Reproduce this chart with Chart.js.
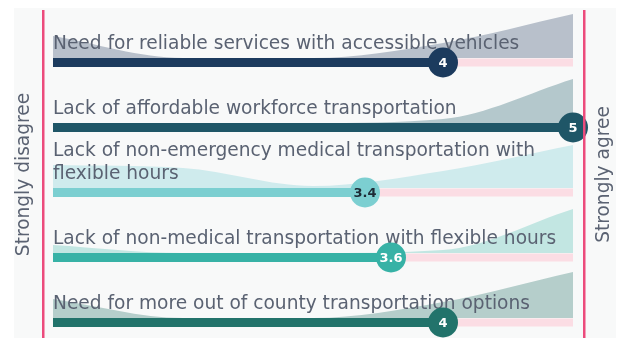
<!DOCTYPE html>
<html><head><meta charset="utf-8">
<script src="https://cdn.jsdelivr.net/npm/chart.js@4.4.1/dist/chart.umd.min.js"></script>
<style>html,body{margin:0;padding:0;background:#fff;overflow:hidden;}canvas{display:block;}</style>
</head><body><canvas id="c" width="620" height="338"></canvas>
<script>
// ---- data ----
const categories = [
  ["Need for reliable services with accessible vehicles"],
  ["Lack of affordable workforce transportation"],
  ["Lack of non-emergency medical transportation with", "flexible hours"],
  ["Lack of non-medical transportation with flexible hours"],
  ["Need for more out of county transportation options"]
];
const averages = [4, 5, 3.4, 3.6, 4];
const averageLabels = ["4", "5", "3.4", "3.6", "4"];
const scalePoints = [1, 2, 3, 4, 5];
// relative share of answers at each scale point (shaded distribution behind each row)
const dist1 = [22, 0, 0, 15, 44];
const dist2 = [0, 0, 0, 4, 44];
const dist3 = [23, 20, 2, 17, 43];
const dist4 = [8, 0, 0, 3, 44];
const dist5 = [19, 0, 0, 16, 46];
const axisLabels = ["Strongly disagree", "Strongly agree"];

// ---- styles ----
const distributions = [dist1, dist2, dist3, dist4, dist5];
const barColors = ["#1c3b5e", "#1f5667", "#7ccfd1", "#37b2a6", "#22736b"];
const areaColors = ["#b8c0cb", "#b4c8cc", "#cfebed", "#c2e6e2", "#b5cecb"];
const circleText = ["#ffffff", "#ffffff", "#1d2b36", "#ffffff", "#ffffff"];
const trackColor = "#fbdde4";
const pink = "#ec4b7c";
const textColor = "#5a6272";
const FONT = "'DejaVu Sans'";
const FONT_SIZE = 18.6;
const ROW_PX = 65;
const DIST_UNIT = 1 / ROW_PX;
const TRACK_HALF = 4.5 / ROW_PX;

const datasets = [];
distributions.forEach((d, i) => {
  const r = i + 1;
  const base = r - TRACK_HALF;
  datasets.push({
    role: "area", type: "line",
    data: scalePoints.map((x, k) => ({ x: x, y: base - d[k] * DIST_UNIT })),
    fill: { value: base }, backgroundColor: areaColors[i], borderColor: "rgba(0,0,0,0)",
    borderWidth: 0, pointRadius: 0, cubicInterpolationMode: "monotone", order: 40
  });
});
distributions.forEach((d, i) => {
  const r = i + 1;
  datasets.push({
    role: "track", type: "line",
    data: [{ x: scalePoints[0], y: r }, { x: scalePoints[4], y: r }],
    borderColor: trackColor, borderWidth: 8, pointRadius: 0, fill: false,
    borderCapStyle: "butt", order: 30
  });
});
averages.forEach((v, i) => {
  const r = i + 1;
  datasets.push({
    role: "bar", type: "line",
    data: [{ x: scalePoints[0], y: r }, { x: v, y: r }],
    borderColor: barColors[i], borderWidth: 9, pointRadius: 0, fill: false,
    borderCapStyle: "butt", order: 20
  });
});
averages.forEach((v, i) => {
  const r = i + 1;
  datasets.push({
    role: "dot", type: "line", showLine: false,
    data: [{ x: v, y: r }],
    pointRadius: 15, pointBackgroundColor: barColors[i], pointBorderWidth: 0,
    borderColor: barColors[i], clip: false, order: 10
  });
});

const bgPlugin = {
  id: "bg",
  beforeDraw(chart) {
    const c = chart.ctx;
    c.save();
    c.fillStyle = "#ffffff"; c.fillRect(0, 0, chart.width, chart.height);
    c.fillStyle = "#f8f9f9"; c.fillRect(14, 8, 602, chart.height - 8);
    c.restore();
    chart.$textDone = false;
  }
};
const textPlugin = {
  id: "cats",
  beforeDatasetDraw(chart, args) {
    const ds = chart.data.datasets[args.index];
    if (ds.role === "area" || chart.$textDone) return;
    chart.$textDone = true;
    const c = chart.ctx, xs = chart.scales.x, ys = chart.scales.y;
    c.save();
    c.fillStyle = textColor;
    c.font = FONT_SIZE + "px " + FONT;
    c.textAlign = "left"; c.textBaseline = "alphabetic";
    categories.forEach((lines, i) => {
      const cy = ys.getPixelForValue(i + 1);
      lines.forEach((t, j) => {
        const y = cy - 13 - (lines.length - 1 - j) * 23;
        c.fillText(t, xs.getPixelForValue(scalePoints[0]), y);
      });
    });
    c.restore();
  },
  afterDatasetsDraw(chart) {
    const c = chart.ctx, xs = chart.scales.x, ys = chart.scales.y;
    c.save();
    c.font = "bold 13px " + FONT;
    c.textAlign = "center"; c.textBaseline = "middle";
    averages.forEach((v, i) => {
      c.fillStyle = circleText[i];
      c.fillText(averageLabels[i], xs.getPixelForValue(v), ys.getPixelForValue(i + 1) + 1);
    });
    // right-hand axis label, reading bottom to top
    const y2 = chart.scales.y2;
    c.translate(604, (y2.top + y2.bottom) / 2);
    c.rotate(-Math.PI / 2);
    c.font = FONT_SIZE + "px " + FONT;
    c.fillStyle = textColor;
    c.fillText(axisLabels[1], 0, 0);
    c.restore();
  }
};

new Chart(document.getElementById("c"), {
  data: { datasets: datasets },
  options: {
    responsive: false, animation: false, events: [],
    layout: { autoPadding: false, padding: { top: 11, left: 0, right: 0, bottom: 0 } },
    plugins: { legend: { display: false }, tooltip: { enabled: false } },
    scales: {
      x: { type: "linear", min: 0.92308, max: 5.0846, display: false },
      y: {
        type: "linear", reverse: true, min: 0.2077, max: 5.2385, position: "left",
        grid: { display: false }, ticks: { display: false },
        border: { display: true, color: pink, width: 2.5, z: 1 },
        title: { display: true, text: axisLabels[0], color: textColor,
                 font: { size: FONT_SIZE, family: FONT }, padding: { top: 13, bottom: 0 } },
        afterFit(s) { s.width = 43; }
      },
      y2: {
        type: "linear", reverse: true, min: 0.2077, max: 5.2385, position: "right",
        grid: { display: false }, ticks: { display: false },
        border: { display: true, color: pink, width: 2.5, z: 1 },
        afterFit(s) { s.width = 36; }
      }
    }
  },
  plugins: [bgPlugin, textPlugin]
});
</script></body></html>
